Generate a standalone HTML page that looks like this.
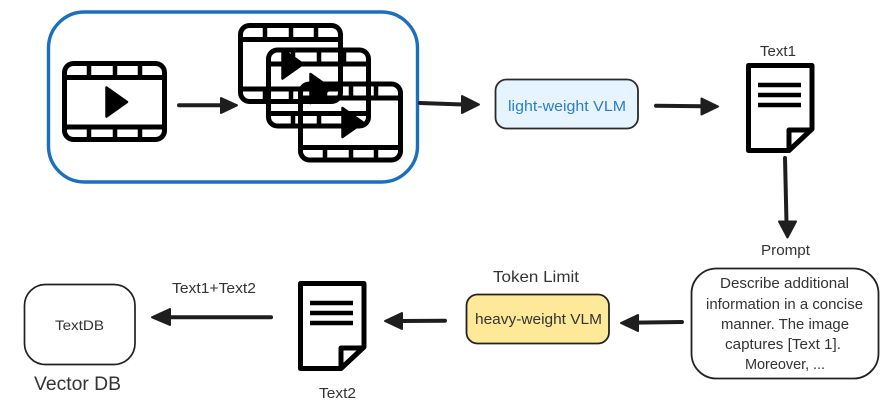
<!DOCTYPE html>
<html lang="en">
<head>
<meta charset="utf-8">
<title>VLM pipeline diagram</title>
<style>
html,body{margin:0;padding:0;background:#fff;width:888px;height:412px;overflow:hidden}
svg{display:block}
text{font-family:"Liberation Sans",sans-serif;fill:#333}
</style>
</head>
<body>
<svg width="888" height="412" viewBox="0 0 888 412" xmlns="http://www.w3.org/2000/svg">
<defs>
  <g id="film" fill="none" stroke="#000" stroke-width="5">
    <rect x="2.5" y="2.5" width="100" height="76" rx="9"/>
    <path d="M2 16.5H103M2 66H103"/>
    <path d="M27 2V16M53 2V16M78 2V16M27 66V79M53 66V79M78 66V79" stroke-width="4.5"/>
    <path d="M44.5 26.5L65 41L44.5 55.5Z" fill="#000" stroke="#000" stroke-width="2.5" stroke-linejoin="round"/>
  </g>
  <g id="doc" fill="none" stroke="#000">
    <path d="M2.5 2.5H66V66L43 87.5H2.5Z" stroke-width="5" stroke-linejoin="round"/>
    <path d="M43 87.5V67H66" stroke-width="5" stroke-linejoin="round"/>
    <path d="M12 22H55M12 32H55M12 42H55" stroke-width="4.4"/>
  </g>
</defs>

<rect x="48.5" y="12" width="369" height="170" rx="36" fill="#fff" stroke="#1b6fc0" stroke-width="3.4"/>

<use href="#film" x="62" y="61"/>
<use href="#film" x="238" y="23"/>
<use href="#film" x="266" y="47.5"/>
<use href="#film" x="298" y="81.5"/>

<g stroke="#1e1e1e" stroke-width="4" stroke-linecap="round" fill="none">
  <path d="M179 105.3H222"/>
  <path d="M420 103L463 104.5"/>
  <path d="M656 105.8L703 106.3"/>
  <path d="M785 158L786.5 223"/>
  <path d="M682 322L636 322.6"/>
  <path d="M445 320.7L400 321"/>
  <path d="M271 317.3H168"/>
</g>
<g fill="#1e1e1e" stroke="#1e1e1e" stroke-width="2" stroke-linejoin="round">
  <path d="M221 98L237 105.3L221 113Z"/>
  <path d="M462 96L479 104.5L462 113Z"/>
  <path d="M701.5 98.5L718 106.5L701.5 114.5Z"/>
  <path d="M779 221.5H796L787.5 237.5Z"/>
  <path d="M638 315L621 323L638 331Z"/>
  <path d="M402 313L385 321L402 329Z"/>
  <path d="M170 309L152 317.3L170 325Z"/>
</g>

<rect x="495.5" y="79.5" width="142.5" height="49" rx="11" fill="#e6f4ff" stroke="#2a2a2a" stroke-width="1.8"/>
<text x="508" y="111" font-size="14.5" textLength="118" lengthAdjust="spacingAndGlyphs" style="fill:#2b7ccf">light-weight VLM</text>

<use href="#doc" x="746" y="63"/>
<text x="760" y="56" font-size="14.5" textLength="36" lengthAdjust="spacingAndGlyphs">Text1</text>
<text x="761" y="255" font-size="14.5" textLength="49" lengthAdjust="spacingAndGlyphs">Prompt</text>

<rect x="691.5" y="268.5" width="187" height="110" rx="25" fill="#fff" stroke="#222" stroke-width="1.8"/>
<text x="720" y="288" font-size="14.5" textLength="129" lengthAdjust="spacingAndGlyphs">Describe additional</text>
<text x="706" y="309" font-size="14.5" textLength="157" lengthAdjust="spacingAndGlyphs">information in a concise</text>
<text x="721" y="329" font-size="14.5" textLength="128" lengthAdjust="spacingAndGlyphs">manner. The image</text>
<text x="725" y="349" font-size="14.5" textLength="116" lengthAdjust="spacingAndGlyphs">captures [Text 1].</text>
<text x="745" y="369" font-size="14.5" textLength="80" lengthAdjust="spacing">Moreover, ...</text>

<text x="493" y="282" font-size="16" textLength="86" lengthAdjust="spacingAndGlyphs">Token Limit</text>
<rect x="466.5" y="294.5" width="142.5" height="49" rx="11" fill="#fee998" stroke="#222" stroke-width="1.8"/>
<text x="475" y="324" font-size="14.5" textLength="127" lengthAdjust="spacingAndGlyphs">heavy-weight VLM</text>

<use href="#doc" x="298" y="281"/>
<text x="319" y="398" font-size="14.5" textLength="37" lengthAdjust="spacingAndGlyphs">Text2</text>

<text x="172" y="293" font-size="14.5" textLength="84" lengthAdjust="spacingAndGlyphs">Text1+Text2</text>

<rect x="24.5" y="284.5" width="110.5" height="80" rx="21" fill="#fff" stroke="#222" stroke-width="1.7"/>
<text x="55" y="330" font-size="14" textLength="49" lengthAdjust="spacingAndGlyphs">TextDB</text>
<text x="34" y="390" font-size="19" textLength="87" lengthAdjust="spacingAndGlyphs">Vector DB</text>
</svg>
</body>
</html>
